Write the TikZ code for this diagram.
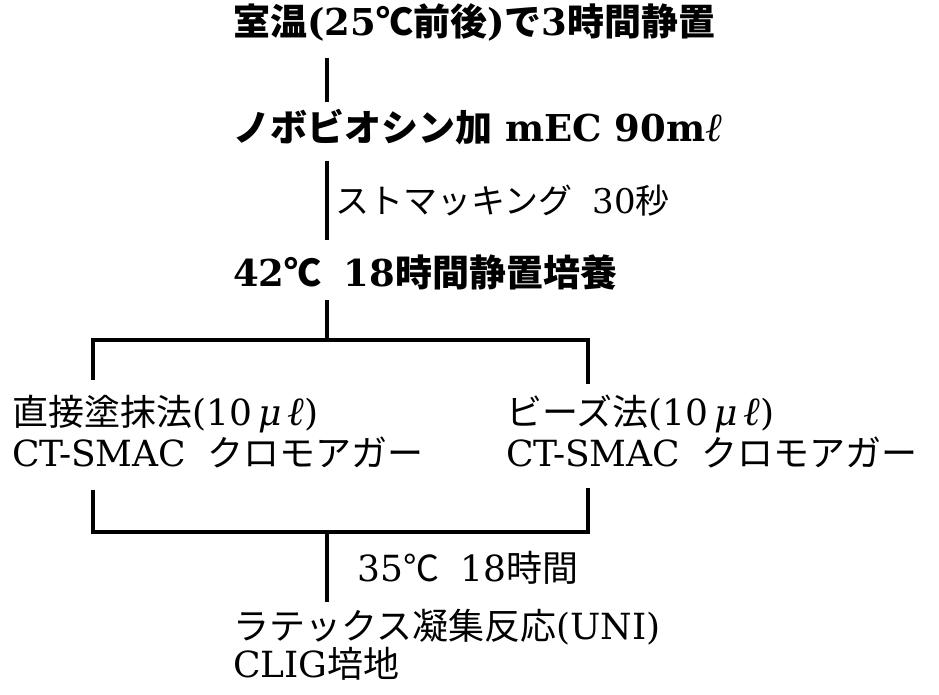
\documentclass[tikz,border=0pt]{standalone}
\usepackage{fontspec}
\setmainfont{DejaVu Serif}
\newfontfamily\jp{Noto Sans CJK JP}
\newfontfamily\lib{Liberation Serif}
\newcommand\J[1]{{\jp #1}}
\newcommand\ELL{{\lib\mdseries\itshape\fontsize{40}{44}\selectfont ℓ}}
\newcommand\ML{{\itshape μ}\,\ELL}
\begin{document}
\begin{tikzpicture}[x=1pt,y=-1pt,
  txt/.style={anchor=base west,inner sep=0pt,font=\fontsize{36}{44}\selectfont},
  btxt/.style={txt,font=\fontsize{37}{44}\selectfont\bfseries},
  ln/.style={line width=3.5pt,line cap=rect}]
\useasboundingbox[fill=white] (0,0) rectangle (939,695);
\node[btxt] (t1) at (233,36) {\J{室温}(25\J{℃前後})\J{で}3\J{時間静置}};
\node[btxt] (t2) at (233,142) {\J{ノボビオシン加} mEC 90m\ELL};
\node[txt,font=\fontsize{34}{40}\selectfont] (l1) at (335,214) {\J{ストマッキング}\hspace{0.6em}30\J{秒}};
\node[btxt] (t3) at (233,286) {42\J{℃}\hspace{0.6em}18\J{時間静置培養}};
\node[txt] (b1) at (12,425) {\J{直接塗抹法}(10\,\ML)};
\node[txt] (b1b) at (12,466) {CT-SMAC\hspace{0.6em}\J{クロモアガー}};
\node[txt] (b2) at (506,425) {\J{ビーズ法}(10\,\ML)};
\node[txt] (b2b) at (506,466) {CT-SMAC\hspace{0.6em}\J{クロモアガー}};
\node[txt] (l2) at (357,581) {35\J{℃}\hspace{0.6em}18\J{時間}};
\node[txt] (t4) at (233,639) {\J{ラテックス凝集反応}(UNI)};
\node[txt] (t5) at (233,677) {CLIG\J{培地}};
\coordinate (a1) at (327,60); \coordinate (a2) at (327,100);
\coordinate (a3) at (327,163); \coordinate (a4) at (327,238);
\coordinate (a5) at (327,302); \coordinate (a6) at (327,340);
\coordinate (p1) at (93,340); \coordinate (p2) at (588,340);
\coordinate (p1e) at (93,378); \coordinate (p2e) at (588,382);
\coordinate (q1) at (93,532); \coordinate (q2) at (588,532);
\coordinate (q1e) at (93,492); \coordinate (q2e) at (588,490);
\coordinate (a7) at (327,532); \coordinate (a8) at (327,600);
\draw[ln] (a1) -- (a2);
\draw[ln] (a3) -- (a4);
\draw[ln] (a5) -- (a6);
\draw[ln] (p1e) -- (p1) -- (p2) -- (p2e);
\draw[ln] (q1e) -- (q1) -- (q2) -- (q2e);
\draw[ln] (a7) -- (a8);
\end{tikzpicture}
\end{document}
